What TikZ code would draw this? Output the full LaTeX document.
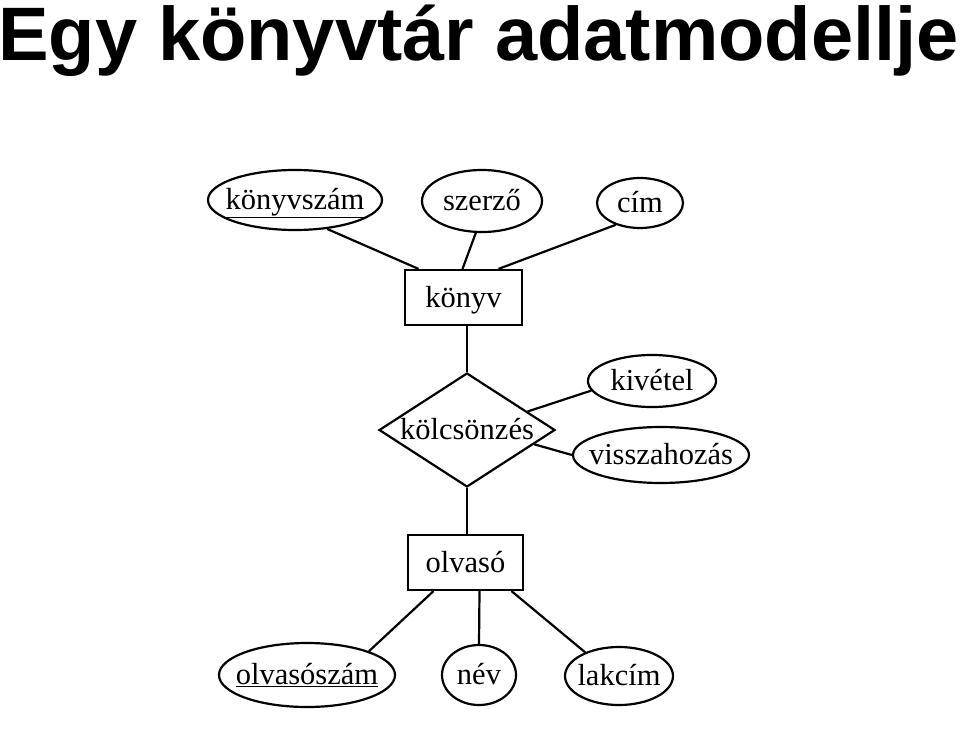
\documentclass[tikz,border=0pt]{standalone}
\usepackage{fontspec}
\setmainfont{Liberation Serif}
\newfontfamily\titlefont{Liberation Sans}
\usetikzlibrary{shapes.geometric}
\newcommand{\zt}[1]{\makebox[0pt]{\raisebox{-9.5pt}[0pt][0pt]{#1}}}
\tikzset{
  attr/.style={draw, ellipse, line width=2.2pt, inner sep=0pt, font=\fontsize{30.5}{36}\selectfont},
  entity/.style={draw, rectangle, line width=2.2pt, inner sep=0pt, font=\fontsize{30.5}{36}\selectfont},
  relation/.style={draw, diamond, line width=2.2pt, inner sep=0pt, font=\fontsize{30.5}{36}\selectfont},
  link/.style={line width=2.2pt}
}
\begin{document}
\begin{tikzpicture}[x=1pt, y=-1pt]
\useasboundingbox (0,0) rectangle (960,751);
\fill[white] (0,0) rectangle (960,751);
\node[anchor=base west, inner sep=0pt, font=\titlefont\bfseries\fontsize{75.8}{80}\selectfont] (title) at (-2,61) {Egy könyvtár adatmodellje};

% entities
\node[entity, minimum width=117pt, minimum height=55pt] (konyv) at (463.5,297.5) {\zt{könyv}};
\node[entity, minimum width=115pt, minimum height=55pt] (olvaso) at (465.5,562.5) {\zt{olvasó}};
% relationship
\node[relation, minimum width=176pt, minimum height=114pt] (kolcs) at (467,430) {\zt{kölcsönzés}};

% attributes
\node[attr, minimum width=174pt, minimum height=60pt] (konyvszam) at (295,200) {\zt{\underline{könyvszám}}};
\node[attr, minimum width=120pt, minimum height=62pt] (szerzo) at (482,201) {\zt{szerző}};
\node[attr, minimum width=86pt, minimum height=50pt] (cim) at (640,203) {\zt{cím}};
\node[attr, minimum width=128pt, minimum height=52pt] (kivetel) at (652,381) {\zt{kivétel}};
\node[attr, minimum width=176pt, minimum height=56pt] (vissza) at (661,455) {\zt{visszahozás}};
\node[attr, minimum width=176pt, minimum height=64pt] (olvszam) at (307,675) {\zt{\underline{olvasószám}}};
\node[attr, minimum width=74pt, minimum height=60pt] (nev) at (479,675) {\zt{név}};
\node[attr, minimum width=108pt, minimum height=58pt] (lakcim) at (619,676) {\zt{lakcím}};

% connectors
\draw[link] (konyvszam.-42) -- ([xshift=-45pt]konyv.north);
\draw[link] (szerzo.-101) -- ([xshift=-1pt]konyv.north);
\draw[link] (cim.-138) -- ([xshift=35pt]konyv.north);
\draw[link] ([xshift=3.5pt]konyv.south) -- (kolcs.north);
\draw[link] (kolcs.17) -- (kivetel.189);
\draw[link] (kolcs.-12) -- (vissza.180);
\draw[link] (kolcs.south) -- ([xshift=1.5pt]olvaso.north);
\draw[link] ([xshift=-32pt]olvaso.south) -- (olvszam.21);
\draw[link] ([xshift=14pt]olvaso.south) -- (nev.90);
\draw[link] ([xshift=46pt]olvaso.south) -- (lakcim.145);
\end{tikzpicture}
\end{document}
